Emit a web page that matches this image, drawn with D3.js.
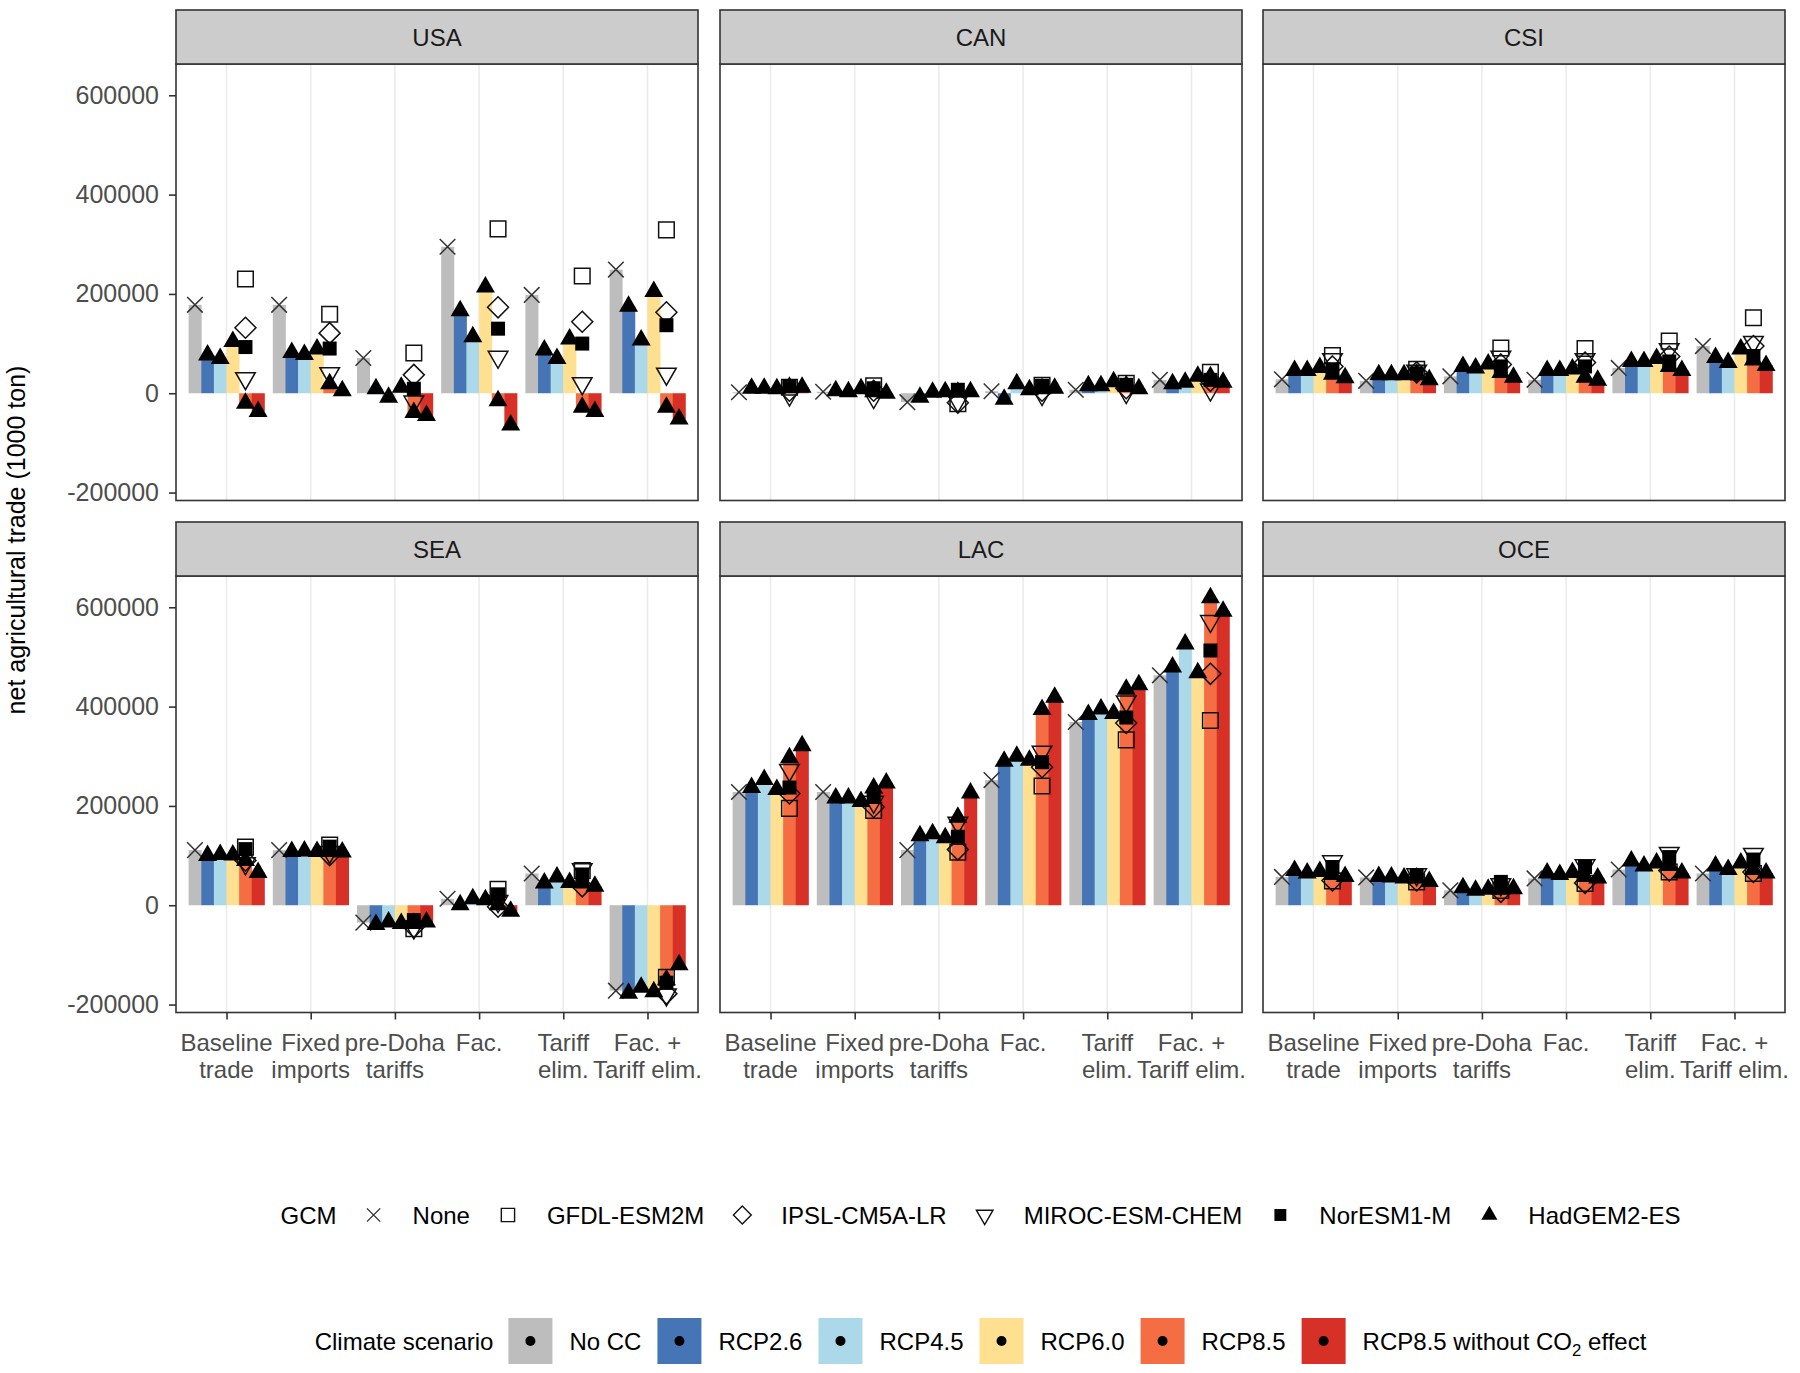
<!DOCTYPE html>
<html><head><meta charset="utf-8">
<script src="https://cdn.jsdelivr.net/npm/d3@7"></script>
<style>
body{margin:0;background:#fff}
svg{display:block}
text{font-family:"Liberation Sans", Arial, sans-serif}
</style>
</head><body>
<svg id="chart" width="1800" height="1373"></svg>
<script>
// ---------------- DATA ----------------
const regions = ["USA", "CAN", "CSI", "SEA", "LAC", "OCE"];
const categories = [["Baseline", "trade"], ["Fixed", "imports"], ["pre-Doha", "tariffs"], ["Fac."], ["Tariff", "elim."], ["Fac. +", "Tariff elim."]];
const scenarios = ["No CC", "RCP2.6", "RCP4.5", "RCP6.0", "RCP8.5", "RCP8.5 without CO2 effect"];
const scenarioColors = ["#BDBDBD", "#4575B4", "#ABD9E9", "#FEE090", "#F46D43", "#D73027"];
const gcms = ["None", "GFDL-ESM2M", "IPSL-CM5A-LR", "MIROC-ESM-CHEM", "NorESM1-M", "HadGEM2-ES"];
const yTicks = [-200000, 0, 200000, 400000, 600000];

// No climate change (GCM: None)
const noCC = {
  USA: [178000, 178000, 71000, 295000, 198000, 249000],
  CAN: [2000, 3000, -18000, 4000, 7000, 27000],
  CSI: [28000, 25000, 34000, 27000, 51000, 95000],
  SEA: [111000, 111000, -35000, 13000, 64000, -172000],
  LAC: [228000, 228000, 111000, 252000, 369000, 463000],
  OCE: [57000, 56000, 30000, 54000, 72000, 64000]
};
// HadGEM2-ES values (bars) per scenario
const rcp26 = {
  USA: [77000, 82000, 9000, 166000, 87000, 175000],
  CAN: [10000, 5000, -8000, -12000, 15000, 19000],
  CSI: [46000, 37000, 54000, 46000, 64000, 72000],
  SEA: [100000, 108000, -39000, 1000, 45000, -177000],
  LAC: [237000, 216000, 140000, 290000, 384000, 480000],
  OCE: [70000, 58000, 35000, 65000, 89000, 79000]
};
const rcp45 = {
  USA: [70000, 78000, -8000, 114000, 70000, 107000],
  CAN: [10000, 3000, 2000, 19000, 15000, 22000],
  CSI: [46000, 37000, 51000, 46000, 64000, 62000],
  SEA: [102000, 109000, -34000, 13000, 57000, -165000],
  LAC: [253000, 216000, 144000, 300000, 395000, 526000],
  OCE: [65000, 57000, 30000, 62000, 79000, 72000]
};
const rcp60 = {
  USA: [104000, 89000, 12000, 214000, 109000, 205000],
  CAN: [9000, 9000, 3000, 7000, 23000, 34000],
  CSI: [52000, 37000, 59000, 49000, 70000, 89000],
  SEA: [101000, 108000, -37000, 11000, 46000, -174000],
  LAC: [233000, 209000, 136000, 292000, 386000, 468000],
  OCE: [68000, 55000, 32000, 66000, 85000, 85000]
};
const rcp85 = {
  USA: [-20000, 19000, -39000, -15000, -28000, -28000],
  CAN: [12000, 3000, 2000, 9000, 15000, 33000],
  CSI: [38000, 38000, 42000, 32000, 54000, 67000],
  SEA: [90000, 108000, -37000, 1000, 45000, -150000],
  LAC: [297000, 236000, 177000, 394000, 435000, 619000],
  OCE: [62000, 55000, 32000, 58000, 80000, 72000]
};
const rcp85noCO2 = {
  USA: [-37000, 5000, -45000, -64000, -37000, -52000],
  CAN: [12000, 0, 3000, 10000, 9000, 22000],
  CSI: [31000, 27000, 32000, 26000, 46000, 56000],
  SEA: [66000, 107000, -34000, -12000, 38000, -120000],
  LAC: [321000, 246000, 226000, 419000, 444000, 592000],
  OCE: [58000, 48000, 33000, 55000, 65000, 65000]
};
// Other GCMs, RCP8.5 only
const gfdl85 = {
  USA: [230000, 159000, 81000, 331000, 236000, 329000],
  CAN: [12000, 15000, -21000, 16000, 20000, 42000],
  CSI: [76000, 48000, 91000, 90000, 105000, 152000],
  SEA: [117000, 121000, -47000, 32000, 70000, -145000],
  LAC: [195000, 191000, 107000, 240000, 333000, 372000],
  OCE: [49000, 47000, 30000, 44000, 67000, 64000]
};
const ipsl85 = {
  USA: [132000, 121000, 37000, 173000, 144000, 163000],
  CAN: [5000, 5000, -19000, 5000, 10000, 25000],
  CSI: [54000, 42000, 58000, 62000, 74000, 95000],
  SEA: [90000, 101000, -44000, -3000, 38000, -178000],
  LAC: [225000, 198000, 112000, 278000, 367000, 466000],
  OCE: [50000, 50000, 27000, 45000, 70000, 67000]
};
const miroc85 = {
  USA: [30000, 40000, -17000, 73000, 20000, 39000],
  CAN: [-3000, -8000, -16000, -2000, 2000, 7000],
  CSI: [68000, 45000, 73000, 68000, 88000, 103000],
  SEA: [84000, 107000, -45000, 8000, 72000, -180000],
  LAC: [272000, 208000, 166000, 309000, 410000, 572000],
  OCE: [88000, 62000, 42000, 80000, 105000, 103000]
};
const noresm85 = {
  USA: [93000, 90000, 9000, 130000, 100000, 137000],
  CAN: [14000, 10000, 7000, 15000, 17000, 27000],
  CSI: [48000, 40000, 54000, 54000, 64000, 75000],
  SEA: [113000, 118000, -30000, 22000, 62000, -156000],
  LAC: [237000, 218000, 138000, 288000, 378000, 513000],
  OCE: [77000, 60000, 47000, 77000, 97000, 92000]
};
const barSeries = [noCC, rcp26, rcp45, rcp60, rcp85, rcp85noCO2];

// ---------------- LAYOUT ----------------
const svg = d3.select("#chart");
const FS = 24, FSA = 25;
const colLeft = [176, 720, 1263], panelW = 522;
const stripTop = [10, 522], stripH = 54, plotH = 436.5;
const yDomain = [-216000, 663000];

// symbol path builders (centred on centroid)
const sym = {
  cross: (s) => { const a = 7.8 * s; return `M${-a},${-a}L${a},${a}M${-a},${a}L${a},${-a}`; },
  square: (s) => { const a = 7.8 * s; return `M${-a},${-a}H${a}V${a}H${-a}Z`; },
  diamond: (s) => { const a = 10.5 * s; return `M0,${-a}L${a},0L0,${a}L${-a},0Z`; },
  triDown: (s) => { const h = 17 * s, w = 9.8 * s; return `M${-w},${-h / 3}H${w}L0,${2 * h / 3}Z`; },
  fsquare: (s) => { const a = 7 * s; return `M${-a},${-a}H${a}V${a}H${-a}Z`; },
  tri: (s) => { const h = 16.5 * s, w = 9.5 * s; return `M0,${-2 * h / 3}L${w},${h / 3}H${-w}Z`; }
};
const gcmStyle = [
  { p: sym.cross, fill: "none", stroke: "#333333" },
  { p: sym.square, fill: "none", stroke: "#111" },
  { p: sym.diamond, fill: "none", stroke: "#111" },
  { p: sym.triDown, fill: "none", stroke: "#111" },
  { p: sym.fsquare, fill: "#000", stroke: "none" },
  { p: sym.tri, fill: "#000", stroke: "none" }
];

regions.forEach((reg, i) => {
  const col = i % 3, row = Math.floor(i / 3);
  const left = colLeft[col], right = left + panelW;
  const sTop = stripTop[row], pTop = sTop + stripH, pBot = pTop + plotH;
  const x = d3.scalePoint().domain(d3.range(categories.length)).range([left, right]).padding(0.6);
  const bw = x.step() * 0.9 / scenarios.length;
  const y = d3.scaleLinear().domain(yDomain).range([pBot, pTop]);
  const g = svg.append("g");

  g.append("rect").attr("x", left).attr("y", pTop).attr("width", panelW).attr("height", plotH).attr("fill", "#fff");
  g.selectAll("line.grid").data(d3.range(categories.length)).join("line")
    .attr("x1", d => x(d)).attr("x2", d => x(d)).attr("y1", pTop).attr("y2", pBot)
    .attr("stroke", "#EBEBEB").attr("stroke-width", 1.6);

  const barData = [];
  categories.forEach((c, k) => barSeries.forEach((s, j) => barData.push({ k, j, v: s[reg][k] })));
  g.selectAll("rect.bar").data(barData).join("rect")
    .attr("x", d => x(d.k) + (d.j - 2.5) * bw - bw / 2)
    .attr("width", bw + 0.4)
    .attr("y", d => y(Math.max(0, d.v)))
    .attr("height", d => Math.abs(y(d.v) - y(0)))
    .attr("fill", d => scenarioColors[d.j]);

  const pts = [];
  categories.forEach((c, k) => {
    pts.push({ k, j: 0, v: noCC[reg][k], s: 0 });
    pts.push({ k, j: 4, v: gfdl85[reg][k], s: 1 });
    pts.push({ k, j: 4, v: ipsl85[reg][k], s: 2 });
    pts.push({ k, j: 4, v: miroc85[reg][k], s: 3 });
    pts.push({ k, j: 4, v: noresm85[reg][k], s: 4 });
  });
  categories.forEach((c, k) => {
    [rcp26, rcp45, rcp60, rcp85, rcp85noCO2].forEach((s, m) => pts.push({ k, j: m + 1, v: s[reg][k], s: 5 }));
  });
  g.selectAll("path.pt").data(pts).join("path")
    .attr("transform", d => `translate(${x(d.k) + (d.j - 2.5) * bw},${y(d.v)})`)
    .attr("d", d => gcmStyle[d.s].p(1))
    .attr("fill", d => gcmStyle[d.s].fill)
    .attr("stroke", d => gcmStyle[d.s].stroke)
    .attr("stroke-width", 1.5);

  g.append("rect").attr("x", left).attr("y", pTop).attr("width", panelW).attr("height", plotH)
    .attr("fill", "none").attr("stroke", "#333333").attr("stroke-width", 1.6);
  g.append("rect").attr("x", left).attr("y", sTop).attr("width", panelW).attr("height", stripH)
    .attr("fill", "#CCCCCC").attr("stroke", "#333333").attr("stroke-width", 1.6);
  g.append("text").attr("x", (left + right) / 2).attr("y", sTop + stripH / 2).attr("dy", "0.36em")
    .attr("text-anchor", "middle").attr("font-size", FS).attr("fill", "#1A1A1A").text(reg);

  if (col === 0) {
    const ax = g.append("g").attr("transform", `translate(${left},0)`)
      .call(d3.axisLeft(y).tickValues(yTicks).tickSize(7).tickPadding(10).tickFormat(d => String(d)));
    ax.select(".domain").remove();
    ax.selectAll("line").attr("stroke", "#333333").attr("stroke-width", 1.6);
    ax.selectAll("text").attr("font-size", FSA).attr("fill", "#4D4D4D")
      .attr("font-family", '"Liberation Sans", Arial, sans-serif');
  }
  if (row === 1) {
    const ax = g.append("g").attr("transform", `translate(0,${pBot})`)
      .call(d3.axisBottom(x).tickSize(7).tickFormat(""));
    ax.select(".domain").remove();
    ax.selectAll("line").attr("stroke", "#333333").attr("stroke-width", 1.6);
    const lab = g.selectAll("text.xl").data(categories).join("text")
      .attr("x", (d, k) => x(k)).attr("y", pBot + 38)
      .attr("text-anchor", "middle").attr("font-size", FS).attr("fill", "#4D4D4D");
    lab.selectAll("tspan").data(d => d).join("tspan")
      .attr("x", function () { return d3.select(this.parentNode).attr("x"); })
      .attr("dy", (d, n) => n === 0 ? 0 : 27).text(d => d);
  }
});

svg.append("text").attr("transform", "translate(25,540) rotate(-90)")
  .attr("text-anchor", "middle").attr("font-size", FSA).attr("fill", "#000")
  .text("net agricultural trade (1000 ton)");

// ---------------- LEGENDS ----------------
const centerX = (colLeft[0] + colLeft[2] + panelW) / 2;
function legendRow(yc, title, n, drawKey, drawLabel) {
  const g = svg.append("g");
  const t = g.append("text").attr("x", 0).attr("y", yc).attr("dy", "0.36em").attr("font-size", FS).attr("fill", "#000").text(title);
  let cur = t.node().getComputedTextLength() + 15;
  for (let i = 0; i < n; i++) {
    drawKey(g, cur, i);
    const lt = drawLabel(g, cur + 44 + 17, i);
    cur = cur + 44 + 17 + lt.node().getComputedTextLength() + 16;
  }
  const total = cur - 16;
  g.attr("transform", `translate(${centerX - total / 2},0)`);
}
const legY1 = 1215, legY2 = 1341;
legendRow(legY1, "GCM", gcms.length,
  (g, x0, i) => {
    g.append("path").attr("transform", `translate(${x0 + 22},${legY1})`)
      .attr("d", gcmStyle[i].p(0.85)).attr("fill", gcmStyle[i].fill)
      .attr("stroke", gcmStyle[i].stroke).attr("stroke-width", 1.4);
  },
  (g, x0, i) => g.append("text").attr("x", x0).attr("y", legY1).attr("dy", "0.36em")
    .attr("font-size", FS).attr("fill", "#000").text(gcms[i]));

legendRow(legY2, "Climate scenario", scenarios.length,
  (g, x0, i) => {
    g.append("rect").attr("x", x0).attr("y", legY2 - 23).attr("width", 44).attr("height", 46).attr("fill", scenarioColors[i]);
    g.append("circle").attr("cx", x0 + 22).attr("cy", legY2).attr("r", 5).attr("fill", "#000");
  },
  (g, x0, i) => {
    const t = g.append("text").attr("x", x0).attr("y", legY2).attr("dy", "0.36em").attr("font-size", FS).attr("fill", "#000");
    const lab = scenarios[i];
    if (lab.includes("CO2")) {
      const parts = lab.split("CO2");
      t.append("tspan").text(parts[0] + "CO");
      t.append("tspan").attr("font-size", FS * 0.7).attr("dy", 6).text("2");
      t.append("tspan").attr("dy", -6).text(parts[1]);
    } else t.text(lab);
    return t;
  });
</script>
</body></html>
